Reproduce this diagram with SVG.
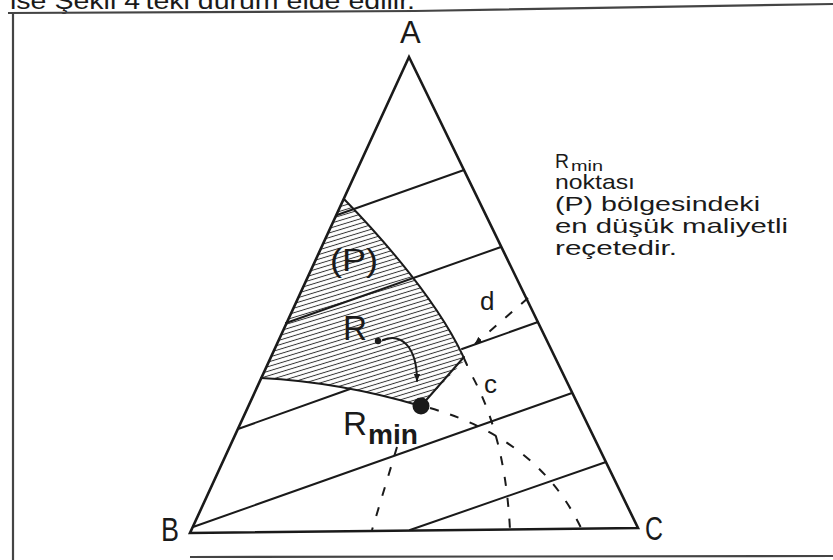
<svg xmlns="http://www.w3.org/2000/svg" width="833" height="560" viewBox="0 0 833 560">
<defs>
<style>
.ln{stroke:#1a1a1a;stroke-width:2;fill:none;stroke-linecap:round}
.tri{stroke:#1a1a1a;stroke-width:2.6;fill:none;stroke-linejoin:miter}
.dash{stroke:#1a1a1a;stroke-width:2;fill:none;stroke-dasharray:9 12}
.t{font-family:"Liberation Sans",Arial,sans-serif;fill:#1a1a1a}
.frame{stroke:#444;stroke-width:2.2;fill:none}
</style>
<pattern id="hatch" width="10" height="4.4" patternUnits="userSpaceOnUse" patternTransform="rotate(-17)">
<line x1="0" y1="2.2" x2="10" y2="2.2" stroke="#333" stroke-width="1"/>
</pattern>
<marker id="ah" viewBox="0 0 10 10" refX="9" refY="5" markerWidth="8" markerHeight="8" orient="auto" markerUnits="userSpaceOnUse">
<path d="M0,1 L10,5 L0,9 z" fill="#1a1a1a"/>
</marker>
</defs>
<rect width="833" height="560" fill="#fff"/>
<g id="frame">
<text class="t" x="10" y="9" font-size="24" textLength="405" lengthAdjust="spacingAndGlyphs">ise Şekil 4'teki durum elde edilir.</text>
<path class="frame" d="M8,13 L415,11 L833,4"/>
<path class="frame" d="M13,12 L13,560"/>
<path class="frame" d="M190,557 L833,556"/>
</g>
<g id="region-P">
<path d="M344,199 C380,236 442,305 465,360 L421,406 Q340,382 261,378 Z" fill="url(#hatch)"/>
<path class="ln" d="M344,199 C380,236 442,305 467,365"/>
<path class="ln" d="M464,357 L421,406"/>
<path class="ln" d="M261,378 Q340,382 421,406"/>
<text class="t" x="330" y="271" font-size="32" textLength="48" lengthAdjust="spacingAndGlyphs">(P)</text>
</g>
<g id="triangle">
<path class="tri" d="M409,57 L190,533 L638,528 Z"/>
<text class="t" x="400" y="43" font-size="31">A</text>
<text class="t" x="161" y="541" font-size="34" textLength="18" lengthAdjust="spacingAndGlyphs">B</text>
<text class="t" x="645" y="540" font-size="34" textLength="18" lengthAdjust="spacingAndGlyphs">C</text>
</g>
<g id="connectors">
<path class="ln" d="M337,215 L464,170"/>
<path class="ln" d="M286,323 L501,247"/>
<path class="ln" d="M238,429 L350,389"/>
<path class="ln" d="M462,349 L538,322"/>
<path class="ln" d="M193,527 L572,393"/>
<path class="ln" d="M410,530 L606,462"/>
<path class="dash" d="M467,367 Q505,430 510,530" stroke-dashoffset="9"/>
<path class="dash" d="M430,408 Q540,440 582,530"/>
<path class="dash" d="M397,447 L372,530"/>
<path class="dash" d="M528,298 L475,344" marker-end="url(#ah)"/>
<path class="ln" stroke-width="1.5" d="M383,340 C400,333 417,345 417,381" marker-end="url(#ah)"/>
<text class="t" x="480" y="310" font-size="26">d</text>
<text class="t" x="484" y="393" font-size="26">c</text>
</g>
<g id="point-R">
<circle cx="378" cy="341" r="3.2" fill="#1a1a1a"/>
<text class="t" x="343" y="340" font-size="35" textLength="24" lengthAdjust="spacingAndGlyphs">R</text>
</g>
<g id="point-Rmin">
<circle cx="421" cy="406" r="8.5" fill="#1a1a1a"/>
<text class="t" x="343" y="435" font-size="34" textLength="24" lengthAdjust="spacingAndGlyphs">R</text>
<text class="t" x="368" y="444" font-size="28" font-weight="bold" textLength="50" lengthAdjust="spacingAndGlyphs">min</text>
</g>
<g id="note">
<text class="t" x="555" y="168" font-size="20" textLength="14" lengthAdjust="spacingAndGlyphs">R</text>
<text class="t" x="571" y="171" font-size="14" textLength="32" lengthAdjust="spacingAndGlyphs">min</text>
<text class="t" x="555" y="189" font-size="21" textLength="80" lengthAdjust="spacingAndGlyphs">noktası</text>
<text class="t" x="555" y="211" font-size="21" textLength="205" lengthAdjust="spacingAndGlyphs">(P) bölgesindeki</text>
<text class="t" x="555" y="233" font-size="21" textLength="233" lengthAdjust="spacingAndGlyphs">en düşük maliyetli</text>
<text class="t" x="555" y="255" font-size="21" textLength="122" lengthAdjust="spacingAndGlyphs">reçetedir.</text>
</g>
</svg>
